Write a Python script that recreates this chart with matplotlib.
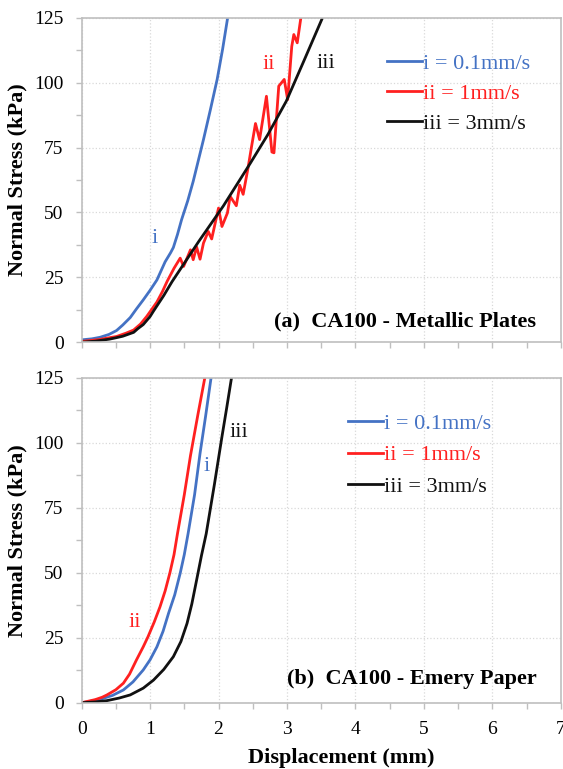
import numpy as np
import matplotlib
matplotlib.use("Agg")
import matplotlib.pyplot as plt
from matplotlib.ticker import MultipleLocator

plt.rcParams['font.family'] = ['Liberation Serif', 'DejaVu Serif']
plt.rcParams['font.size'] = 14

# (a) CA100 - Metallic Plates
a_x_i = [0, 0.15, 0.27, 0.40, 0.51, 0.60, 0.71, 0.80, 0.90, 1.00, 1.10, 1.22, 1.30, 1.34,
         1.40, 1.46, 1.55, 1.63, 1.70, 1.78, 1.88, 1.98, 2.06, 2.13]
a_y_i = [0.9, 1.3, 1.9, 3.0, 4.5, 6.6, 9.5, 12.8, 16.3, 20.0, 24.0, 31.0, 34.5, 36.5,
         41.5, 47.2, 54.5, 62.0, 69.5, 78.1, 89.5, 101.3, 113.0, 124.5]
a_x_ii = [0, 0.25, 0.51, 0.65, 0.76, 0.86, 0.95, 1.02, 1.10, 1.18, 1.25, 1.35, 1.44, 1.49,
          1.59, 1.63, 1.68, 1.73, 1.78, 1.85, 1.90, 2.00, 2.05, 2.13, 2.17, 2.26, 2.31,
          2.36, 2.43, 2.48, 2.54, 2.60, 2.70, 2.78, 2.81, 2.88, 2.96, 3.01, 3.07, 3.10,
          3.15, 3.20]
a_y_ii = [0.3, 1.0, 2.2, 3.5, 4.7, 7.0, 9.9, 12.5, 15.5, 19.5, 23.5, 28.5, 32.4, 29.2,
          35.6, 31.8, 36.7, 32.0, 38.2, 42.7, 39.8, 51.7, 44.6, 49.8, 56.2, 52.6, 60.5,
          57.0, 67.0, 75.0, 84.3, 78.1, 94.8, 73.3, 73.0, 98.7, 101.3, 93.5, 114.0, 118.6,
          115.4, 124.5]
a_x_iii = [0, 0.20, 0.41, 0.50, 0.60, 0.76, 0.82, 0.90, 1.00, 1.05, 1.10, 1.20, 1.32, 1.71,
           2.07, 2.46, 2.72, 2.99, 3.24, 3.51]
a_y_iii = [0, 0.4, 1.2, 1.7, 2.3, 3.8, 5.2, 6.8, 9.9, 12.0, 14.0, 18.0, 23.3, 38.8,
           52.5, 68.8, 80.0, 92.9, 108.0, 124.5]

# (b) CA100 - Emery Paper
b_x_i = [0, 0.10, 0.27, 0.45, 0.61, 0.75, 0.90, 1.00, 1.10, 1.19, 1.27, 1.36, 1.44, 1.50,
         1.555, 1.65, 1.73, 1.81, 1.89]
b_y_i = [0, 0.4, 1.3, 2.8, 4.9, 8.0, 12.6, 16.5, 21.5, 27.5, 34.4, 41.5, 49.8, 57.0,
         65.0, 80.0, 95.9, 110.0, 124.8]
b_x_ii = [0, 0.10, 0.20, 0.30, 0.37, 0.50, 0.61, 0.70, 0.80, 0.90, 0.97, 1.06, 1.145, 1.22,
          1.29, 1.35, 1.40, 1.50, 1.59, 1.70, 1.80]
b_y_ii = [0, 0.6, 1.2, 2.1, 3.0, 5.0, 7.5, 11.0, 16.4, 21.5, 25.4, 31.0, 36.9, 43.0,
          50.0, 57.0, 65.0, 80.0, 95.0, 111.0, 125.0]
b_x_iii = [0, 0.20, 0.37, 0.55, 0.71, 0.90, 1.05, 1.20, 1.34, 1.45, 1.54, 1.61, 1.68, 1.75,
           1.82, 1.94, 2.05, 2.12, 2.19]
b_y_iii = [0, 0.3, 0.8, 1.8, 3.0, 5.6, 8.7, 12.8, 17.7, 23.5, 30.5, 38.0, 47.2, 56.5,
           65.0, 84.0, 102.3, 113.5, 125.0]

labels = ['i = 0.1mm/s', 'ii = 1mm/s', 'iii = 3mm/s']
colors = ['#4472C4', '#FF2020', '#111111']
yticks = [0, 25, 50, 75, 100, 125]
xticks = [0, 1, 2, 3, 4, 5, 6, 7]

fig = plt.figure(figsize=(5.63, 7.69), dpi=100)
ax1 = fig.add_axes([0.145, 0.555, 0.851, 0.4217])
ax2 = fig.add_axes([0.145, 0.0862, 0.851, 0.4226])

def style(ax):
    ax.set_xlim(0, 7)
    ax.set_ylim(0, 125)
    ax.set_xticks(xticks)
    ax.set_yticks(yticks)
    ax.xaxis.set_minor_locator(MultipleLocator(0.5))
    ax.yaxis.set_minor_locator(MultipleLocator(12.5))
    ax.tick_params(which='both', direction='out', length=4.5, width=1, color='#BFBFBF',
                   labelsize=14, pad=8.5)
    for s in ax.spines.values():
        s.set_color('#BFBFBF')
        s.set_linewidth(1.2)
    ax.grid(True, which='major', linestyle=':', color='#D9D9D9', linewidth=0.9)
    ax.set_axisbelow(True)
    ax.set_ylabel('Normal Stress (kPa)', fontweight='bold', fontsize=16, labelpad=5)

style(ax1)
style(ax2)
ax1.tick_params(axis='x', labelbottom=False)

for xs, ys, c, lab in zip([a_x_i, a_x_ii, a_x_iii], [a_y_i, a_y_ii, a_y_iii], colors, labels):
    ax1.plot(xs, ys, color=c, lw=2.0, label=lab)
for xs, ys, c, lab in zip([b_x_i, b_x_ii, b_x_iii], [b_y_i, b_y_ii, b_y_iii], colors, labels):
    ax2.plot(xs, ys, color=c, lw=2.0, label=lab)

ax1.legend(loc='upper left', bbox_to_anchor=(0.637, 0.89), frameon=False, fontsize=16,
           labelcolor='linecolor', handlelength=1.6, handletextpad=0.05, labelspacing=0.42,
           borderaxespad=0, borderpad=0)
ax2.legend(loc='upper left', bbox_to_anchor=(0.555, 0.89), frameon=False, fontsize=16,
           labelcolor='linecolor', handlelength=1.6, handletextpad=0.05, labelspacing=0.49,
           borderaxespad=0, borderpad=0)

# curve labels
ax1.text(1.07, 40, 'i', color=colors[0], fontsize=16, ha='center', va='center')
ax1.text(2.73, 107, 'ii', color=colors[1], fontsize=16, ha='center', va='center')
ax1.text(3.57, 107.5, 'iii', color=colors[2], fontsize=16, ha='center', va='center')
ax2.text(1.83, 91, 'i', color=colors[0], fontsize=16, ha='center', va='center')
ax2.text(0.78, 31, 'ii', color=colors[1], fontsize=16, ha='center', va='center')
ax2.text(2.3, 104, 'iii', color=colors[2], fontsize=16, ha='center', va='center')

ax1.text(0.949, 0.063, '(a)  CA100 - Metallic Plates', transform=ax1.transAxes,
         ha='right', va='center', fontweight='bold', fontsize=16)
ax2.text(0.949, 0.073, '(b)  CA100 - Emery Paper', transform=ax2.transAxes,
         ha='right', va='center', fontweight='bold', fontsize=16)

ax2.set_xlabel('Displacement (mm)', fontweight='bold', fontsize=16)
ax2.xaxis.set_label_coords(0.541, -0.14)

fig.savefig('out.png', dpi=100)
